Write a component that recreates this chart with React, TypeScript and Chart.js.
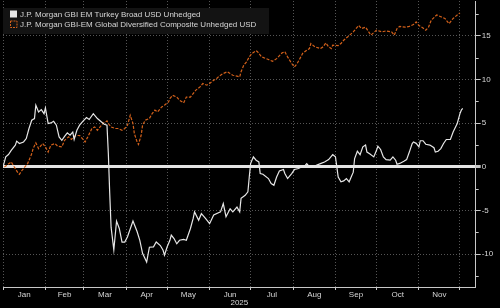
import React, { useEffect, useRef } from "react";
import { Chart, registerables } from "chart.js";

Chart.register(...registerables);

// Day of 2025 (0 = 1 Jan) and cumulative total return in %, per index
const turkeyDays = [
  0, 2, 4, 6, 9, 10, 12, 15, 17, 19, 21, 23, 24, 26, 28, 30, 31, 33, 35, 37,
  39, 41, 43, 45, 47, 49, 51, 52, 54, 56, 58, 61, 63, 66, 69, 72, 74, 76, 77, 78,
  79, 81, 83, 85, 87, 89, 91, 95, 98, 100, 102, 105, 107, 110, 112, 115, 117, 118, 120, 122,
  123, 125, 127, 129, 132, 134, 137, 139, 140, 143, 145, 148, 151, 154, 159, 161, 163, 166, 168, 171,
  173, 174, 177, 179, 180, 181, 183, 185, 187, 188, 190, 194, 196, 198, 200, 202, 205, 206, 208, 211,
  213, 216, 218, 221, 222, 224, 227, 229, 232, 235, 238, 241, 243, 244, 245, 247, 249, 251, 253, 256,
  257, 259, 261, 263, 265, 266, 268, 271, 273, 274, 276, 278, 280, 283, 285, 287, 288, 290, 293, 295,
  297, 299, 300, 302, 304, 305, 307, 309, 312, 315, 316, 318, 320, 322, 324, 327, 329, 332, 334, 335,
  336,
];
const turkeyReturns = [
  0.0, 1.15, 1.42, 1.9, 2.5, 2.95, 2.68, 2.86, 3.25, 4.4, 5.35, 5.54, 7.07, 6.3, 6.57, 6.1, 6.76, 4.97, 5.04, 5.23,
  4.78, 3.44, 3.05, 3.5, 3.9, 3.63, 4.0, 3.14, 4.2, 4.78, 5.15, 5.65, 5.43, 6.1, 5.54, 5.15, 4.89, 4.78, 1.5, -3.0,
  -6.9, -9.5, -6.2, -7.05, -8.6, -8.6, -8.0, -6.2, -7.4, -8.4, -9.9, -10.9, -9.2, -9.15, -8.6, -9.0, -9.55, -10.1, -9.15, -8.4,
  -7.8, -8.2, -8.8, -8.4, -8.3, -8.4, -7.05, -5.9, -5.15, -6.1, -5.35, -5.9, -6.5, -5.5, -5.15, -4.2, -5.7, -4.8, -5.15, -4.6,
  -5.15, -3.6, -3.25, -2.85, -1.15, 0.4, 1.15, 0.77, 0.57, -0.76, -0.84, -1.33, -1.9, -2.1, -1.15, -0.46, -0.3, -0.76, -1.33, -0.76,
  -0.3, -0.18, 0.0, 0.2, 0.38, 0.0, 0.0, 0.2, 0.38, 0.57, 0.84, 1.4, 1.15, 0.0, -1.15, -1.7, -1.6, -1.33, -1.7, -0.6,
  0.96, 1.8, 1.4, 2.3, 2.5, 1.7, 1.5, 1.15, 1.9, 2.37, 2.0, 1.15, 0.84, 0.77, 1.15, 0.77, 0.3, 0.4, 0.65, 0.84,
  1.7, 2.65, 2.86, 2.7, 2.3, 3.0, 3.0, 2.6, 2.5, 2.2, 1.7, 1.8, 2.1, 2.68, 3.14, 3.14, 4.0, 4.97, 6.1, 6.5,
  6.7,
];

const globalDays = [
  1, 5, 6, 9, 11, 12, 14, 16, 18, 21, 22, 24, 26, 27, 29, 31, 33, 35, 38, 40,
  43, 45, 48, 50, 52, 54, 56, 58, 60, 62, 65, 67, 69, 71, 73, 76, 77, 79, 82, 84,
  87, 89, 91, 93, 95, 96, 98, 99, 101, 102, 104, 107, 109, 111, 113, 116, 118, 121, 122, 124,
  127, 129, 132, 134, 137, 139, 141, 144, 146, 149, 151, 154, 156, 158, 161, 164, 166, 168, 171, 173,
  174, 176, 178, 180, 182, 185, 186, 189, 194, 197, 200, 204, 206, 208, 211, 213, 215, 217, 219, 222,
  224, 225, 228, 232, 234, 236, 238, 240, 241, 245, 247, 249, 252, 256, 260, 262, 265, 268, 269, 273,
  277, 280, 284, 286, 288, 290, 294, 297, 300, 302, 304, 307, 309, 311, 313, 317, 320, 323, 326, 329,
  332, 334,
];
const globalReturns = [
  0.0, 0.46, 0.57, -0.2, -0.69, -0.84, -0.38, 0.0, 0.38, 1.5, 2.1, 2.75, 2.1, 2.3, 2.68, 2.3, 1.7, 2.5, 2.68, 2.37,
  2.3, 3.05, 3.44, 3.14, 3.5, 3.6, 3.6, 3.25, 2.86, 3.44, 4.4, 4.58, 4.2, 4.58, 4.97, 5.27, 4.97, 4.58, 4.4, 4.4,
  4.2, 4.4, 4.78, 5.92, 4.97, 3.83, 2.86, 2.57, 3.63, 4.78, 5.35, 5.54, 6.1, 6.5, 6.3, 6.87, 7.07, 7.45, 7.83, 8.2,
  8.0, 7.64, 7.33, 8.0, 8.0, 8.4, 8.8, 9.16, 9.55, 9.36, 9.55, 9.93, 10.1, 10.4, 10.7, 10.9, 10.7, 10.5, 10.4, 10.3,
  10.9, 11.65, 12.03, 12.6, 13.0, 13.3, 13.2, 12.6, 12.3, 12.1, 12.4, 13.06, 13.2, 12.6, 11.84, 11.45, 11.84, 12.4, 13.0, 13.37,
  13.56, 14.13, 13.75, 13.56, 13.75, 14.2, 13.75, 13.56, 13.94, 13.9, 14.13, 14.5, 14.9, 15.46, 16.2, 15.85, 16.0, 15.3, 15.1, 15.66,
  15.46, 15.58, 15.46, 15.09, 15.85, 16.1, 16.0, 16.1, 16.3, 16.6, 16.2, 15.9, 15.66, 16.0, 16.8, 17.4, 17.2, 17.0, 16.4, 17.0,
  17.4, 17.64,
];

const seriesNames = [
  "J.P. Morgan GBI EM Turkey Broad USD Unhedged",
  "J.P. Morgan GBI-EM Global Diversified Composite Unhedged USD",
];

// First day of each month (day of year), Jan .. Dec
const monthStarts = [0, 31, 59, 90, 120, 151, 181, 212, 243, 273, 304, 334];
const monthNames = ["Jan", "Feb", "Mar", "Apr", "May", "Jun", "Jul", "Aug", "Sep", "Oct", "Nov"];
const yearLabel = "2025";

const yTicks = [-10, -5, 0, 5, 10, 15];
const yMinorTicks = [-12.5, -7.5, -2.5, 2.5, 7.5, 12.5, 17.5];

const X_MIN = 0;
const X_MAX = 345.5;
const Y_MIN = -13.75;
const Y_MAX = 19;

const TEXT = "#d6d6d6";
const AXIS = "#c8c8c8";
const GRID = "#555555";
const WHITE_LINE = "#e6e6e6";
const ORANGE = "#d2601a";
const FONT = { family: "'Liberation Sans', Arial, sans-serif", size: 8 };

const monthMids = monthNames.map((_, i) => (monthStarts[i] + monthStarts[i + 1]) / 2);

const legendPlugin = {
  id: "boxLegend",
  afterDraw(chart: any) {
    const ctx = chart.ctx as CanvasRenderingContext2D;
    ctx.save();
    ctx.fillStyle = "#131313";
    ctx.fillRect(3, 8, 266, 26);
    ctx.font = `${FONT.size}px ${FONT.family}`;
    ctx.textBaseline = "middle";
    ctx.fillStyle = TEXT;
    ctx.fillText(seriesNames[0], 20, 15);
    ctx.fillText(seriesNames[1], 20, 25);
    // series swatches
    ctx.fillStyle = WHITE_LINE;
    ctx.fillRect(10, 10.5, 7, 7);
    ctx.strokeStyle = ORANGE;
    ctx.lineWidth = 1;
    ctx.setLineDash([2, 1]);
    ctx.strokeRect(10.5, 21, 6.5, 6.5);
    ctx.restore();
  },
};

// Short unlabelled ticks between the major y ticks, plus the year under the month labels
const axisExtrasPlugin = {
  id: "axisExtras",
  afterDraw(chart: any) {
    const y = chart.scales.y;
    const area = chart.chartArea;
    const ctx = chart.ctx as CanvasRenderingContext2D;
    ctx.save();
    ctx.strokeStyle = AXIS;
    ctx.lineWidth = 1;
    for (const v of yMinorTicks) {
      const py = Math.round(y.getPixelForValue(v)) + 0.5;
      ctx.beginPath();
      ctx.moveTo(y.left, py);
      ctx.lineTo(y.left + 3, py);
      ctx.stroke();
    }
    ctx.font = `${FONT.size}px ${FONT.family}`;
    ctx.fillStyle = TEXT;
    ctx.textAlign = "center";
    ctx.textBaseline = "middle";
    ctx.fillText(yearLabel, (area.left + area.right) / 2, 303);
    ctx.restore();
  },
};

export default function App() {
  const canvasRef = useRef<HTMLCanvasElement | null>(null);

  useEffect(() => {
    document.body.style.margin = "0";
    document.body.style.background = "#000";
    const canvas = canvasRef.current;
    if (!canvas) return;

    const chart = new Chart(canvas, {
      type: "line",
      data: {
        datasets: [
          {
            label: seriesNames[0],
            data: turkeyDays.map((d, i) => ({ x: d, y: turkeyReturns[i] })),
            borderColor: WHITE_LINE,
            borderWidth: 1.2,
            pointRadius: 0,
            tension: 0,
          },
          {
            label: seriesNames[1],
            data: globalDays.map((d, i) => ({ x: d, y: globalReturns[i] })),
            borderColor: ORANGE,
            borderWidth: 1.2,
            borderDash: [3, 1.5],
            pointRadius: 0,
            tension: 0,
          },
        ],
      },
      options: {
        animation: false,
        responsive: false,
        maintainAspectRatio: false,
        devicePixelRatio: 1,
        layout: { padding: { left: 3, top: 1, right: 0, bottom: 0 } },
        plugins: { legend: { display: false }, tooltip: { enabled: false } },
        scales: {
          x: {
            type: "linear",
            min: X_MIN,
            max: X_MAX,
            afterBuildTicks: (s: any) => {
              const vals = [...monthStarts, ...monthMids].sort((a, b) => a - b);
              s.ticks = vals.map((v) => ({ value: v }));
            },
            afterFit: (s: any) => {
              s.height = 21;
              s.paddingLeft = 0;
              s.paddingRight = 0;
            },
            ticks: {
              autoSkip: false,
              maxRotation: 0,
              minRotation: 0,
              padding: 0,
              color: TEXT,
              font: FONT,
              callback: (v: any) => {
                const i = monthMids.indexOf(Number(v));
                return i >= 0 ? monthNames[i] : "";
              },
            },
            grid: {
              color: (c: any) => (monthStarts.includes(c.tick?.value) ? GRID : "rgba(0,0,0,0)"),
              tickColor: (c: any) => (monthStarts.includes(c.tick?.value) ? AXIS : "rgba(0,0,0,0)"),
              tickLength: 3,
              lineWidth: 1,
            },
            border: { display: true, color: AXIS, width: 1, dash: [1, 2] },
            title: { display: false },
          },
          y: {
            type: "linear",
            position: "right",
            min: Y_MIN,
            max: Y_MAX,
            afterBuildTicks: (s: any) => {
              s.ticks = yTicks.map((v) => ({ value: v }));
            },
            afterFit: (s: any) => {
              s.width = 24.3;
              s.paddingTop = 0;
              s.paddingBottom = 0;
            },
            ticks: {
              padding: 1,
              color: TEXT,
              font: FONT,
              callback: (v: any) => String(v),
            },
            grid: {
              color: (c: any) => (c.tick?.value === 0 ? "#e4e4e4" : GRID),
              lineWidth: (c: any) => (c.tick?.value === 0 ? 3 : 1),
              tickColor: AXIS,
              tickLength: 5,
            },
            border: {
              display: true,
              color: AXIS,
              width: 1,
              dash: (c: any) => (c.tick && c.tick.value === 0 ? [] : [1, 2]),
            },
          },
        },
      },
      plugins: [axisExtrasPlugin, legendPlugin],
    } as any);

    return () => chart.destroy();
  }, []);

  return (
    <canvas
      ref={canvasRef}
      width={500}
      height={308}
      style={{ display: "block", background: "#000", width: 500, height: 308 }}
    />
  );
}
